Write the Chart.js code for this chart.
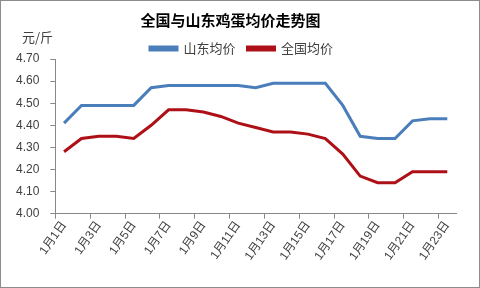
<!DOCTYPE html>
<html>
<head>
<meta charset="utf-8">
<script src="https://cdn.jsdelivr.net/npm/chart.js@4"></script>
<style>
  html, body { margin: 0; padding: 0; background: #fff; }
  #wrap { position: relative; width: 480px; height: 288px; box-sizing: border-box; border: 1px solid #8c8c8c; }
  #unit { position: absolute; left: 21px; top: 29px; font: 13px "Noto Sans CJK SC", sans-serif; line-height: 13px; color: #404040; }
  canvas { position: absolute; left: 0; top: 0; }
</style>
</head>
<body>
<div id="wrap">
  <canvas id="chart" width="478" height="286"></canvas>
  <div id="unit">元/斤</div>
</div>
<script>
// Data
const days = [];
for (let d = 1; d <= 23; d++) days.push('1月' + d + '日');
const shandong = [4.41, 4.49, 4.49, 4.49, 4.49, 4.57, 4.58, 4.58, 4.58, 4.58, 4.58, 4.57, 4.59, 4.59, 4.59, 4.59, 4.49, 4.35, 4.34, 4.34, 4.42, 4.43, 4.43];
const national = [4.28, 4.34, 4.35, 4.35, 4.34, 4.40, 4.47, 4.47, 4.46, 4.44, 4.41, 4.39, 4.37, 4.37, 4.36, 4.34, 4.27, 4.17, 4.14, 4.14, 4.19, 4.19, 4.19];
const yTicks = [4.00, 4.10, 4.20, 4.30, 4.40, 4.50, 4.60, 4.70];

const font = '"Liberation Sans", "Noto Sans CJK SC", sans-serif';
const axisColor = '#888888';

// legend sits close to the plot and a little right of centre
const legendTrim = {
  id: 'legendTrim',
  beforeInit(chart) {
    const fit = chart.legend.fit;
    chart.legend.fit = function () {
      fit.bind(chart.legend)();
      this.height -= 6;
      if (this.lineWidths && this.lineWidths.length) this.lineWidths[0] -= 22;
    };
  }
};

new Chart(document.getElementById('chart'), {
  type: 'line',
  data: {
    labels: days,
    datasets: [
      { label: '山东均价', data: shandong, borderColor: '#4A7EBB', backgroundColor: '#4A7EBB', borderWidth: 3, pointRadius: 0, tension: 0 },
      { label: '全国均价', data: national, borderColor: '#AE1018', backgroundColor: '#AE1018', borderWidth: 3, pointRadius: 0, tension: 0 }
    ]
  },
  options: {
    responsive: false,
    animation: false,
    layout: { padding: { left: 4, right: 23, top: 2, bottom: 24 } },
    plugins: {
      title: { display: true, text: '全国与山东鸡蛋均价走势图', color: '#000', font: { family: '"Noto Sans CJK SC", sans-serif', size: 15, weight: 'bold' }, padding: { top: 8, bottom: 1 } },
      legend: {
        display: true,
        labels: { boxWidth: 27, boxHeight: 3, color: '#404040', font: { family: '"Noto Sans CJK SC", sans-serif', size: 13 }, padding: 12 }
      },
      tooltip: { enabled: false }
    },
    scales: {
      x: {
        type: 'category',
        offset: true,
        border: { display: true, color: axisColor, width: 1 },
        grid: {
          offset: true,
          drawOnChartArea: false,
          drawTicks: true,
          tickLength: 5,
          color: ctx => (ctx.index % 2 === 0 ? axisColor : 'rgba(0,0,0,0)')
        },
        ticks: {
          autoSkip: false,
          minRotation: 55,
          maxRotation: 55,
          color: '#404040',
          font: { family: font, size: 12 },
          padding: 0,
          callback: (v, i) => (i % 2 === 0 ? days[i] : '')
        }
      },
      y: {
        min: 4.0,
        max: 4.7,
        afterBuildTicks: axis => { axis.ticks = yTicks.map(v => ({ value: v })); },
        border: { display: true, color: axisColor, width: 1 },
        grid: { drawOnChartArea: false, drawTicks: true, tickLength: 5, color: axisColor },
        ticks: {
          color: '#404040',
          font: { family: font, size: 12 },
          padding: 11,
          callback: v => v.toFixed(2)
        }
      }
    }
  },
  plugins: [legendTrim]
});
</script>
</body>
</html>
